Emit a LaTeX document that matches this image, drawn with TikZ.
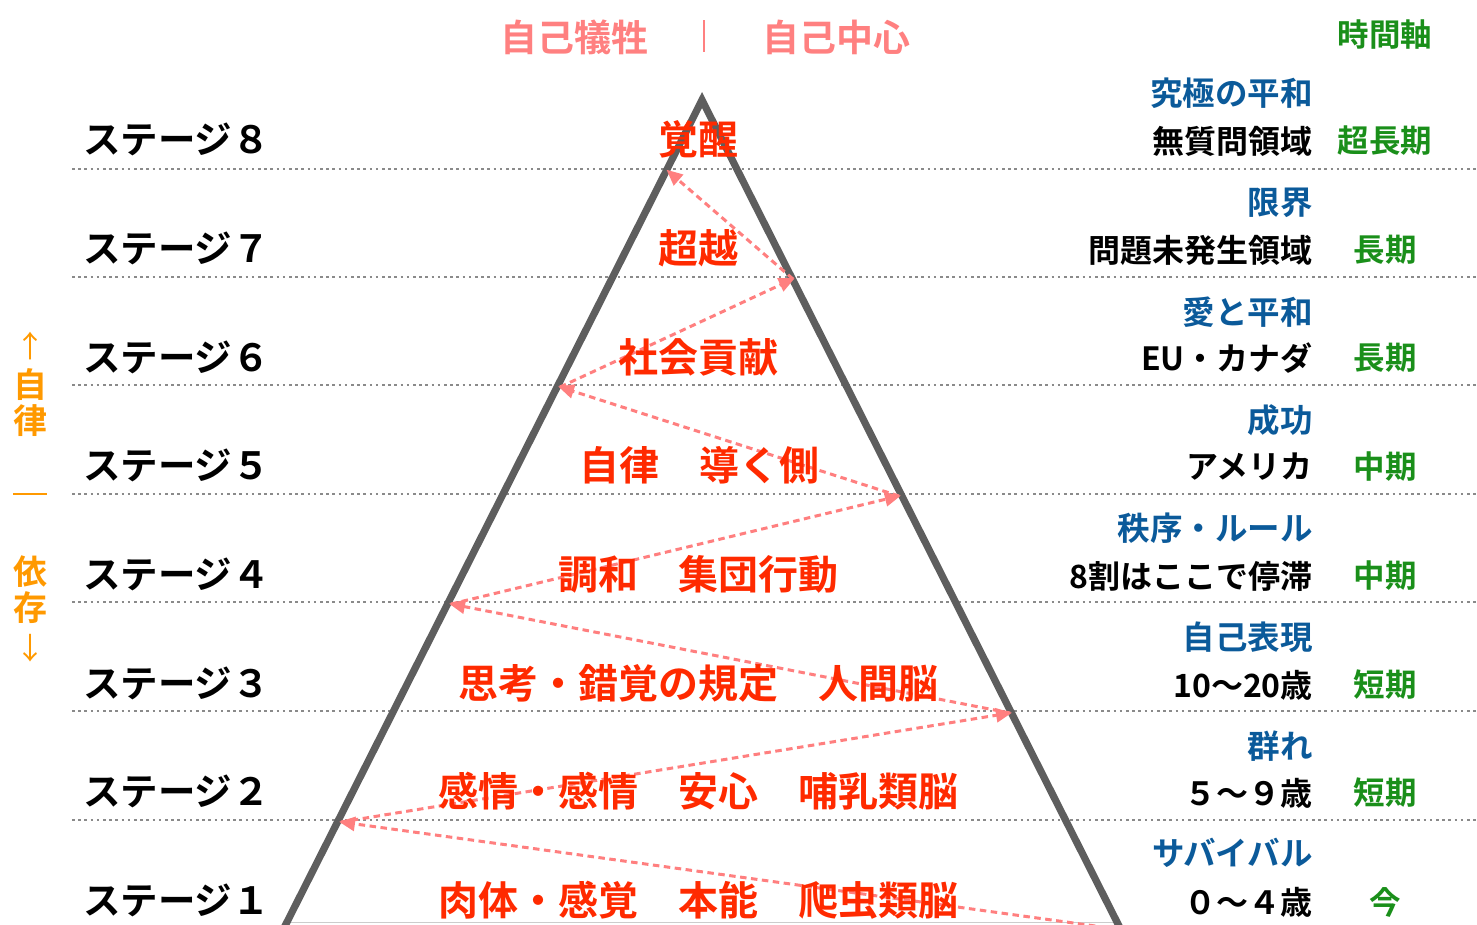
\documentclass[tikz,border=0pt]{standalone}
\usepackage{fontspec}
\setmainfont{Noto Sans CJK JP}[BoldFont={Noto Sans CJK JP Bold}]
\usetikzlibrary{arrows.meta,calc}
\definecolor{tri}{HTML}{5E5E5E}
\definecolor{arrowpink}{HTML}{FF7F7F}
\definecolor{toppink}{HTML}{FF8080}
\definecolor{lblred}{HTML}{FF2A00}
\definecolor{rblue}{HTML}{0B5A9A}
\definecolor{rgreen}{HTML}{1A8F1A}
\definecolor{lorange}{HTML}{FF9900}
\definecolor{dotgray}{HTML}{8A8A8A}
\tikzset{
  stagelbl/.style={anchor=west, inner sep=0, font=\fontsize{37.5}{40}\selectfont\bfseries},
  pyrlbl/.style={inner sep=0, text=lblred, font=\fontsize{40}{44}\selectfont\bfseries},
  bluelbl/.style={anchor=east, inner sep=0, text=rblue, font=\fontsize{32.5}{36}\selectfont\bfseries},
  blacklbl/.style={anchor=east, inner sep=0, text=black, font=\fontsize{32}{36}\selectfont\bfseries},
  greenlbl/.style={inner sep=0, text=rgreen, font=\fontsize{31.5}{36}\selectfont\bfseries},
  toplbl/.style={inner sep=0, text=toppink, font=\fontsize{37}{40}\selectfont\bfseries},
  orlbl/.style={inner sep=0, text=lorange, font=\fontsize{34}{38}\selectfont\bfseries},
  dotline/.style={dotgray, line width=2.6pt, dash pattern=on 2.6pt off 3.6pt},
  zig/.style={arrowpink, line width=3pt, dash pattern=on 6.5pt off 4.5pt,
    -{Triangle[length=16pt,width=14pt]}, shorten >=-2pt},
}
\begin{document}
\begin{tikzpicture}[x=1pt,y=-1pt]
\useasboundingbox (0,0) rectangle (1477,924);
\begin{scope}
\clip (0,0) rectangle (1477,924);
% dotted stage separators
\foreach \yy in {169,277,385,494,602,711,820}{
  \draw[dotline] (72,\yy) -- (1477,\yy);
}
\draw[black!20, line width=1.8pt] (288,922.5) -- (1117,922.5);
% triangle
\coordinate (apex) at (702,100);
\coordinate (bl) at (286,924);
\coordinate (br) at (1118,924);
\draw[tri, line width=7.2pt, line join=miter, miter limit=10] ($(bl)!-0.02!(apex)$) -- (apex) -- ($(br)!-0.02!(apex)$);
% zigzag arrows
\coordinate (z0) at (1117,929);
\coordinate (z1) at (341,822);
\coordinate (z2) at (1010,713);
\coordinate (z3) at (451,604);
\coordinate (z4) at (899,496);
\coordinate (z5) at (560,387);
\coordinate (z6) at (793,279);
\coordinate (z7) at (668,171);
\draw[zig] (z0) -- (z1);
\draw[zig] (z1) -- (z2);
\draw[zig] (z2) -- (z3);
\draw[zig] (z3) -- (z4);
\draw[zig] (z4) -- (z5);
\draw[zig] (z5) -- (z6);
\draw[zig] (z6) -- (z7);
\end{scope}
% top labels
\node[toplbl] (tsac) at (574,37) {自己犠牲};
\node[toplbl] (tcen) at (836,37) {自己中心};
\draw[toppink, line width=1.5pt] (704,20) -- (704,52);
\node[greenlbl] (taxis) at (1385,35) {時間軸};
% stage labels
\node[stagelbl] (s8) at (83,139) {ステージ８};
\node[stagelbl] (s7) at (83,248) {ステージ７};
\node[stagelbl] (s6) at (83,357) {ステージ６};
\node[stagelbl] (s5) at (83,465) {ステージ５};
\node[stagelbl] (s4) at (83,574) {ステージ４};
\node[stagelbl] (s3) at (83,683) {ステージ３};
\node[stagelbl] (s2) at (83,791) {ステージ２};
\node[stagelbl] (s1) at (83,900) {ステージ１};
% pyramid labels
\node[pyrlbl] (p8) at (698,139) {覚醒};
\node[pyrlbl] (p7) at (698,248) {超越};
\node[pyrlbl] (p6) at (698,357) {社会貢献};
\node[pyrlbl] (p5) at (699,465) {自律　導く側};
\node[pyrlbl] (p4) at (698,574) {調和　集団行動};
\node[pyrlbl] (p3) at (698,683) {思考・錯覚の規定　人間脳};
\node[pyrlbl] (p2) at (698,791) {感情・感情　安心　哺乳類脳};
\node[pyrlbl] (p1) at (698,900) {肉体・感覚　本能　爬虫類脳};
% right column
\node[bluelbl] (b8) at (1313,93) {究極の平和};
\node[blacklbl] (k8) at (1313,141) {無質問領域};
\node[bluelbl] (b7) at (1313,203) {限界};
\node[blacklbl] (k7) at (1313,250) {問題未発生領域};
\node[bluelbl] (b6) at (1313,312) {愛と平和};
\node[blacklbl] (k6) at (1313,358) {EU・カナダ};
\node[bluelbl] (b5) at (1313,420) {成功};
\node[blacklbl] (k5) at (1313,467) {アメリカ};
\node[bluelbl] (b4) at (1313,528) {秩序・ルール};
\node[blacklbl] (k4) at (1313,576) {8割はここで停滞};
\node[bluelbl] (b3) at (1313,637) {自己表現};
\node[blacklbl] (k3) at (1313,685) {10〜20歳};
\node[bluelbl] (b2) at (1313,746) {群れ};
\node[blacklbl] (k2) at (1313,793) {５〜９歳};
\node[bluelbl] (b1) at (1313,853) {サバイバル};
\node[blacklbl] (k1) at (1313,902) {０〜４歳};
% time axis
\node[greenlbl] (g8) at (1385,141) {超長期};
\node[greenlbl] (g7) at (1385,250) {長期};
\node[greenlbl] (g6) at (1385,358) {長期};
\node[greenlbl] (g5) at (1385,467) {中期};
\node[greenlbl] (g4) at (1385,576) {中期};
\node[greenlbl] (g3) at (1385,685) {短期};
\node[greenlbl] (g2) at (1385,793) {短期};
\node[greenlbl] (g1) at (1385,902) {今};
% left autonomy/dependence axis
\node[orlbl, font=\fontsize{30}{34}\selectfont] (ua) at (30,346) {↑};
\node[orlbl] (ji) at (30,385) {自};
\node[orlbl] (ritsu) at (30,421) {律};
\draw[lorange, line width=1.3pt] (13,494) -- (47,494);
\node[orlbl] (i) at (30,572) {依};
\node[orlbl] (son) at (30,608) {存};
\node[orlbl, font=\fontsize{30}{34}\selectfont] (da) at (30,648) {↓};
\end{tikzpicture}
\end{document}
